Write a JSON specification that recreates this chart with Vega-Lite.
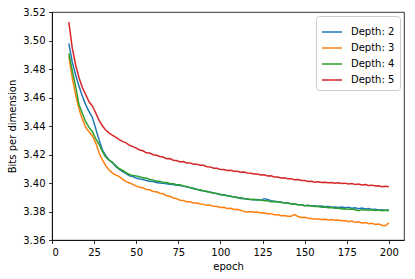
{
  "$schema": "https://vega.github.io/schema/vega-lite/v6.json",
  "width": 352,
  "height": 228,
  "autosize": {"type": "none"},
  "padding": {"left": 52, "top": 12, "right": 11, "bottom": 39},
  "background": "white",
  "config": {
    "font": "DejaVu Sans",
    "view": {"stroke": "black", "strokeWidth": 0.8},
    "axis": {
      "labelFontSize": 10,
      "titleFontSize": 10,
      "titleFontWeight": "normal",
      "labelColor": "black",
      "titleColor": "black",
      "tickColor": "black",
      "domainColor": "black",
      "tickSize": 3.5,
      "tickWidth": 0.8,
      "domainWidth": 0.8,
      "labelPadding": 3.5,
      "grid": false
    },
    "legend": {
      "labelFontSize": 10,
      "labelColor": "black"
    }
  },
  "data": {
    "values": [
      {"e": 10, "d2": 3.498, "d3": 3.489, "d4": 3.491, "d5": 3.513},
      {"e": 12, "d2": 3.485, "d3": 3.474, "d4": 3.479, "d5": 3.495},
      {"e": 14, "d2": 3.476, "d3": 3.462, "d4": 3.468, "d5": 3.483},
      {"e": 16, "d2": 3.468, "d3": 3.452, "d4": 3.455, "d5": 3.474},
      {"e": 18, "d2": 3.461, "d3": 3.445, "d4": 3.449, "d5": 3.467},
      {"e": 20, "d2": 3.455, "d3": 3.439, "d4": 3.443, "d5": 3.462},
      {"e": 22, "d2": 3.450, "d3": 3.436, "d4": 3.439, "d5": 3.457},
      {"e": 24, "d2": 3.446, "d3": 3.433, "d4": 3.436, "d5": 3.454},
      {"e": 26, "d2": 3.438, "d3": 3.428, "d4": 3.431, "d5": 3.449},
      {"e": 28, "d2": 3.430, "d3": 3.421, "d4": 3.427, "d5": 3.444},
      {"e": 30, "d2": 3.423, "d3": 3.416, "d4": 3.422, "d5": 3.440},
      {"e": 32, "d2": 3.419, "d3": 3.412, "d4": 3.418, "d5": 3.437},
      {"e": 34, "d2": 3.416, "d3": 3.409, "d4": 3.416, "d5": 3.435},
      {"e": 36, "d2": 3.414, "d3": 3.407, "d4": 3.4145, "d5": 3.4335},
      {"e": 38, "d2": 3.4115, "d3": 3.4055, "d4": 3.412, "d5": 3.432},
      {"e": 40, "d2": 3.4095, "d3": 3.4045, "d4": 3.410, "d5": 3.4305},
      {"e": 42, "d2": 3.408, "d3": 3.4025, "d4": 3.4088, "d5": 3.429},
      {"e": 44, "d2": 3.4065, "d3": 3.401, "d4": 3.4072, "d5": 3.4282},
      {"e": 46, "d2": 3.405, "d3": 3.400, "d4": 3.406, "d5": 3.4265},
      {"e": 48, "d2": 3.4045, "d3": 3.399, "d4": 3.4052, "d5": 3.4255},
      {"e": 50, "d2": 3.4035, "d3": 3.3978, "d4": 3.405, "d5": 3.4245},
      {"e": 52, "d2": 3.4028, "d3": 3.397, "d4": 3.4044, "d5": 3.4232},
      {"e": 54, "d2": 3.4025, "d3": 3.3966, "d4": 3.4036, "d5": 3.4226},
      {"e": 56, "d2": 3.4018, "d3": 3.3955, "d4": 3.4035, "d5": 3.4212},
      {"e": 58, "d2": 3.4012, "d3": 3.3952, "d4": 3.4025, "d5": 3.4210},
      {"e": 60, "d2": 3.4010, "d3": 3.3941, "d4": 3.4022, "d5": 3.4198},
      {"e": 62, "d2": 3.4003, "d3": 3.3938, "d4": 3.4012, "d5": 3.4195},
      {"e": 64, "d2": 3.4000, "d3": 3.3928, "d4": 3.4012, "d5": 3.4186},
      {"e": 66, "d2": 3.3998, "d3": 3.3924, "d4": 3.4004, "d5": 3.4182},
      {"e": 68, "d2": 3.3995, "d3": 3.3911, "d4": 3.4003, "d5": 3.4170},
      {"e": 70, "d2": 3.3992, "d3": 3.3907, "d4": 3.3996, "d5": 3.4171},
      {"e": 72, "d2": 3.3990, "d3": 3.3895, "d4": 3.3995, "d5": 3.4160},
      {"e": 74, "d2": 3.3985, "d3": 3.3890, "d4": 3.3988, "d5": 3.4158},
      {"e": 76, "d2": 3.3983, "d3": 3.3879, "d4": 3.3987, "d5": 3.4148},
      {"e": 78, "d2": 3.3978, "d3": 3.3878, "d4": 3.3979, "d5": 3.4150},
      {"e": 80, "d2": 3.3972, "d3": 3.3869, "d4": 3.3976, "d5": 3.4140},
      {"e": 82, "d2": 3.3968, "d3": 3.3868, "d4": 3.3966, "d5": 3.4141},
      {"e": 84, "d2": 3.3960, "d3": 3.3860, "d4": 3.3964, "d5": 3.4132},
      {"e": 86, "d2": 3.3957, "d3": 3.3859, "d4": 3.3955, "d5": 3.4131},
      {"e": 88, "d2": 3.3948, "d3": 3.3852, "d4": 3.3952, "d5": 3.4124},
      {"e": 90, "d2": 3.3946, "d3": 3.3850, "d4": 3.3944, "d5": 3.4124},
      {"e": 92, "d2": 3.3938, "d3": 3.3843, "d4": 3.3942, "d5": 3.4114},
      {"e": 94, "d2": 3.3937, "d3": 3.3843, "d4": 3.3933, "d5": 3.4113},
      {"e": 96, "d2": 3.3928, "d3": 3.3836, "d4": 3.3932, "d5": 3.4104},
      {"e": 98, "d2": 3.3926, "d3": 3.3835, "d4": 3.3924, "d5": 3.4103},
      {"e": 100, "d2": 3.3918, "d3": 3.3828, "d4": 3.3921, "d5": 3.4094},
      {"e": 102, "d2": 3.3917, "d3": 3.3829, "d4": 3.3914, "d5": 3.4095},
      {"e": 104, "d2": 3.3910, "d3": 3.3821, "d4": 3.3912, "d5": 3.4088},
      {"e": 106, "d2": 3.3908, "d3": 3.3822, "d4": 3.3905, "d5": 3.4089},
      {"e": 108, "d2": 3.3901, "d3": 3.3814, "d4": 3.3904, "d5": 3.4082},
      {"e": 110, "d2": 3.3900, "d3": 3.3815, "d4": 3.3897, "d5": 3.4083},
      {"e": 112, "d2": 3.3892, "d3": 3.3808, "d4": 3.3896, "d5": 3.4076},
      {"e": 114, "d2": 3.3891, "d3": 3.3800, "d4": 3.3889, "d5": 3.4077},
      {"e": 116, "d2": 3.3886, "d3": 3.3796, "d4": 3.3889, "d5": 3.4070},
      {"e": 118, "d2": 3.3885, "d3": 3.3800, "d4": 3.3885, "d5": 3.4069},
      {"e": 120, "d2": 3.3880, "d3": 3.3795, "d4": 3.3886, "d5": 3.4063},
      {"e": 122, "d2": 3.3884, "d3": 3.3797, "d4": 3.3880, "d5": 3.4063},
      {"e": 124, "d2": 3.3879, "d3": 3.3790, "d4": 3.3881, "d5": 3.4056},
      {"e": 126, "d2": 3.3890, "d3": 3.3791, "d4": 3.3875, "d5": 3.4057},
      {"e": 128, "d2": 3.3885, "d3": 3.3784, "d4": 3.3876, "d5": 3.4049},
      {"e": 130, "d2": 3.3876, "d3": 3.3785, "d4": 3.3869, "d5": 3.4050},
      {"e": 132, "d2": 3.3872, "d3": 3.3778, "d4": 3.3870, "d5": 3.4042},
      {"e": 134, "d2": 3.3868, "d3": 3.3777, "d4": 3.3866, "d5": 3.4042},
      {"e": 136, "d2": 3.3866, "d3": 3.3771, "d4": 3.3864, "d5": 3.4035},
      {"e": 138, "d2": 3.3860, "d3": 3.3772, "d4": 3.3860, "d5": 3.4036},
      {"e": 140, "d2": 3.3860, "d3": 3.3766, "d4": 3.3860, "d5": 3.4029},
      {"e": 142, "d2": 3.3855, "d3": 3.3767, "d4": 3.3853, "d5": 3.4030},
      {"e": 144, "d2": 3.3853, "d3": 3.3778, "d4": 3.3854, "d5": 3.4023},
      {"e": 146, "d2": 3.3848, "d3": 3.3765, "d4": 3.3847, "d5": 3.4024},
      {"e": 148, "d2": 3.3847, "d3": 3.3758, "d4": 3.3848, "d5": 3.4017},
      {"e": 150, "d2": 3.3841, "d3": 3.3759, "d4": 3.3842, "d5": 3.4018},
      {"e": 152, "d2": 3.3843, "d3": 3.3752, "d4": 3.3840, "d5": 3.4011},
      {"e": 154, "d2": 3.3838, "d3": 3.3751, "d4": 3.3841, "d5": 3.4012},
      {"e": 156, "d2": 3.3841, "d3": 3.3747, "d4": 3.3835, "d5": 3.4006},
      {"e": 158, "d2": 3.3836, "d3": 3.3748, "d4": 3.3836, "d5": 3.4009},
      {"e": 160, "d2": 3.3838, "d3": 3.3744, "d4": 3.3830, "d5": 3.4003},
      {"e": 162, "d2": 3.3833, "d3": 3.3746, "d4": 3.3831, "d5": 3.4006},
      {"e": 164, "d2": 3.3835, "d3": 3.3741, "d4": 3.3826, "d5": 3.4001},
      {"e": 166, "d2": 3.3830, "d3": 3.3743, "d4": 3.3828, "d5": 3.4004},
      {"e": 168, "d2": 3.3832, "d3": 3.3738, "d4": 3.3822, "d5": 3.3998},
      {"e": 170, "d2": 3.3828, "d3": 3.3741, "d4": 3.3824, "d5": 3.4001},
      {"e": 172, "d2": 3.3831, "d3": 3.3735, "d4": 3.3818, "d5": 3.3996},
      {"e": 174, "d2": 3.3826, "d3": 3.3737, "d4": 3.3820, "d5": 3.3999},
      {"e": 176, "d2": 3.3829, "d3": 3.3729, "d4": 3.3815, "d5": 3.3993},
      {"e": 178, "d2": 3.3823, "d3": 3.3733, "d4": 3.3818, "d5": 3.3996},
      {"e": 180, "d2": 3.3826, "d3": 3.3724, "d4": 3.3812, "d5": 3.3990},
      {"e": 182, "d2": 3.3820, "d3": 3.3728, "d4": 3.3806, "d5": 3.3993},
      {"e": 184, "d2": 3.3824, "d3": 3.3719, "d4": 3.3813, "d5": 3.3986},
      {"e": 186, "d2": 3.3817, "d3": 3.3722, "d4": 3.3810, "d5": 3.3989},
      {"e": 188, "d2": 3.3821, "d3": 3.3714, "d4": 3.3808, "d5": 3.3982},
      {"e": 190, "d2": 3.3814, "d3": 3.3717, "d4": 3.3812, "d5": 3.3985},
      {"e": 192, "d2": 3.3816, "d3": 3.3709, "d4": 3.3807, "d5": 3.3979},
      {"e": 194, "d2": 3.3811, "d3": 3.3712, "d4": 3.3810, "d5": 3.3981},
      {"e": 196, "d2": 3.3813, "d3": 3.3704, "d4": 3.3805, "d5": 3.3974},
      {"e": 198, "d2": 3.3808, "d3": 3.3700, "d4": 3.3809, "d5": 3.3977},
      {"e": 200, "d2": 3.3810, "d3": 3.3720, "d4": 3.3806, "d5": 3.3974}
    ]
  },
  "transform": [{"fold": ["d2", "d3", "d4", "d5"], "as": ["series", "value"]}],
  "mark": {"type": "line", "strokeWidth": 1.5, "clip": true},
  "encoding": {
    "x": {
      "field": "e",
      "type": "quantitative",
      "scale": {"domain": [0, 209], "nice": false, "zero": false},
      "axis": {"values": [0, 25, 50, 75, 100, 125, 150, 175, 200], "title": "epoch", "titlePadding": 4}
    },
    "y": {
      "field": "value",
      "type": "quantitative",
      "scale": {"domain": [3.36, 3.52], "nice": false, "zero": false},
      "axis": {"values": [3.36, 3.38, 3.40, 3.42, 3.44, 3.46, 3.48, 3.50, 3.52], "format": ".2f", "title": "Bits per dimension", "titlePadding": 5}
    },
    "color": {
      "field": "series",
      "type": "nominal",
      "scale": {"domain": ["d2", "d3", "d4", "d5"], "range": ["#1f77b4", "#ff7f0e", "#2ca02c", "#d62728"]},
      "legend": {
        "title": null,
        "orient": "top-right",
        "offset": 4,
        "padding": 5,
        "strokeColor": "#cccccc",
        "fillColor": "white",
        "cornerRadius": 3,
        "symbolType": "stroke",
        "symbolSize": 400,
        "symbolStrokeWidth": 1.5,
        "rowPadding": 0,
        "labelOffset": 8,
        "labelExpr": "'Depth: ' + slice(datum.label, 1)"
      }
    }
  }
}
